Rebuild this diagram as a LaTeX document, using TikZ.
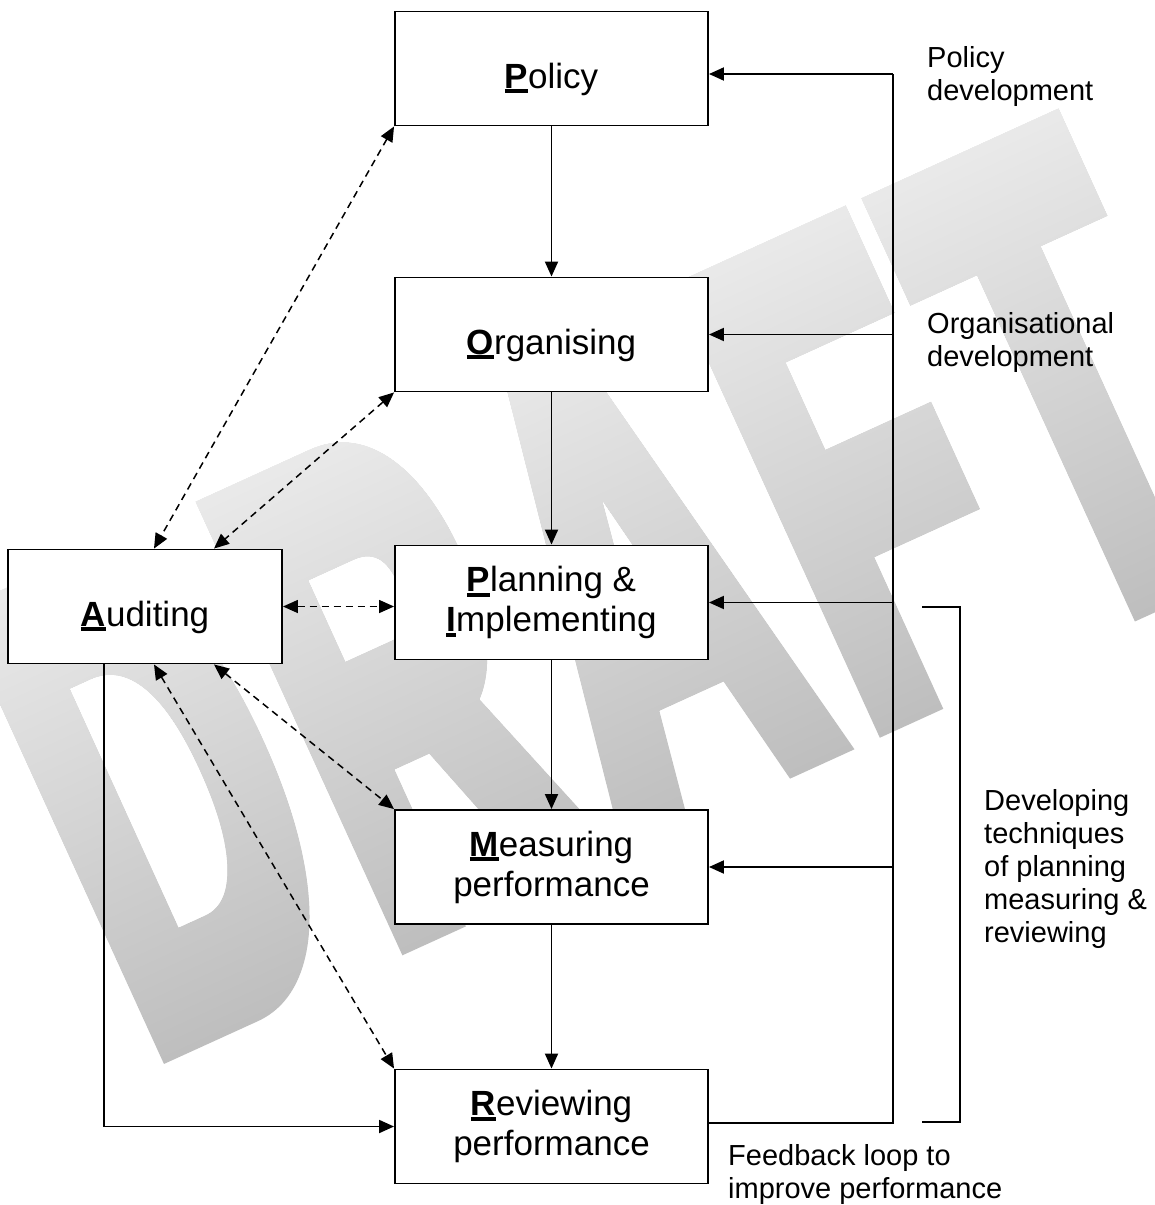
\documentclass[tikz,border=0pt]{standalone}
\usepackage{fontspec}
\setmainfont{Liberation Sans}
\newfontfamily\wmfont{Liberation Sans}[BoldFeatures={FakeBold=6.7}]
\usetikzlibrary{arrows.meta}

% bold first letter with a heavy underline
\newcommand{\ulfirst}[1]{\setbox0\hbox{\textbf{#1}}\rlap{\rule[-5pt]{\wd0}{4pt}}\box0}

\begin{document}
\begin{tikzpicture}[x=1pt, y=-1pt,
    box/.style={draw, line width=1.9pt, fill=white, minimum width=313pt,
                minimum height=114pt, inner sep=0pt, align=center,
                font=\fontsize{35pt}{40pt}\selectfont},
    oneline/.style={text height=40pt, text depth=1pt},
    note/.style={inner sep=0pt, align=left, anchor=north west,
                 font=\fontsize{29pt}{33pt}\selectfont},
    wmark/.style={transform shape, inner sep=0pt, text=gray!52,
                  font=\wmfont\fontsize{330pt}{330pt}\selectfont\bfseries},
    line/.style={line width=1.9pt},
    arr/.style={line, -{Triangle[length=15pt, width=13pt]}},
    dbl/.style={line width=1.5pt, dash pattern=on 7pt off 5pt,
                {Triangle[length=15pt, width=13pt]}-{Triangle[length=15pt, width=13pt]}}]
    \useasboundingbox (0,0) rectangle (1155,1205);
    \fill[white] (0,0) rectangle (1155,1205);

    % DRAFT watermark
    \begin{scope}[shift={(603,590)}, x=1pt, y=1pt, rotate=24.5, yscale=2.0]
        \node[wmark] (wm) at (0,0) {D\kern24pt R\kern24pt A\kern24pt F\kern24pt T};
    \end{scope}
    % lighten it towards the top of the letters
    \begin{scope}[transform canvas={shift={(603,590)}, rotate=24.5}]
        \shade[blend mode=lighten, top color=gray!16, bottom color=gray!52]
            (-660,-262) rectangle (660,262);
    \end{scope}

    % POPIMAR boxes
    \node[box, oneline] (pol) at (551.5,68.5) {\ulfirst{P}olicy};
    \node[box, oneline] (org) at (551.5,334.5) {\ulfirst{O}rganising};
    \node[box] (pla) at (551.5,602.5) {\ulfirst{P}lanning \&\\\ulfirst{I}mplementing};
    \node[box] (mea) at (551.5,867) {\ulfirst{M}easuring\\performance};
    \node[box] (rev) at (551.5,1126.5) {\ulfirst{R}eviewing\\performance};
    \node[box, oneline, minimum width=274pt] (aud) at (145,606.5) {\ulfirst{A}uditing};

    % side notes
    \node[note] (pdev) at (927,46) {Policy\\development};
    \node[note] (odev) at (927,312) {Organisational\\development};
    \node[note] (tech) at (984,789) {Developing\\techniques\\of planning\\measuring \&\\reviewing};
    \node[note] (fbl) at (728,1144) {Feedback loop to\\improve performance};

    % main flow
    \draw[arr] (pol.south) -- (org.north);
    \draw[arr] (org.south) -- (pla.north);
    \draw[arr] (pla.south) -- (mea.north);
    \draw[arr] (mea.south) -- (rev.north);

    % feedback loop
    \coordinate (loop) at (893,74);
    \coordinate (fb) at (893,1123);
    \draw[line] (fb -| rev.east) -- (fb) -- (loop);
    \draw[arr] (loop) -- (loop -| pol.east);
    \draw[arr] (loop |- org.east) -- (org.east);
    \draw[arr] (loop |- pla.east) -- (pla.east);
    \draw[arr] (loop |- mea.east) -- (mea.east);

    % bracket
    \coordinate (brtop) at (922,607);
    \coordinate (brbot) at (922,1122);
    \draw[line] (brtop) -- ++(38,0) |- (brbot);

    % auditing
    \draw[arr] ([xshift=-41pt]aud.south) |- (rev.west);
    \draw[dbl] (pol.south west) -- ([xshift=9pt]aud.north);
    \draw[dbl] (org.south west) -- ([xshift=69pt]aud.north);
    \draw[dbl] (aud.east) -- (aud.east -| pla.west);
    \draw[dbl] ([xshift=69pt]aud.south) -- (mea.north west);
    \draw[dbl] ([xshift=9pt]aud.south) -- (rev.north west);
\end{tikzpicture}
\end{document}
